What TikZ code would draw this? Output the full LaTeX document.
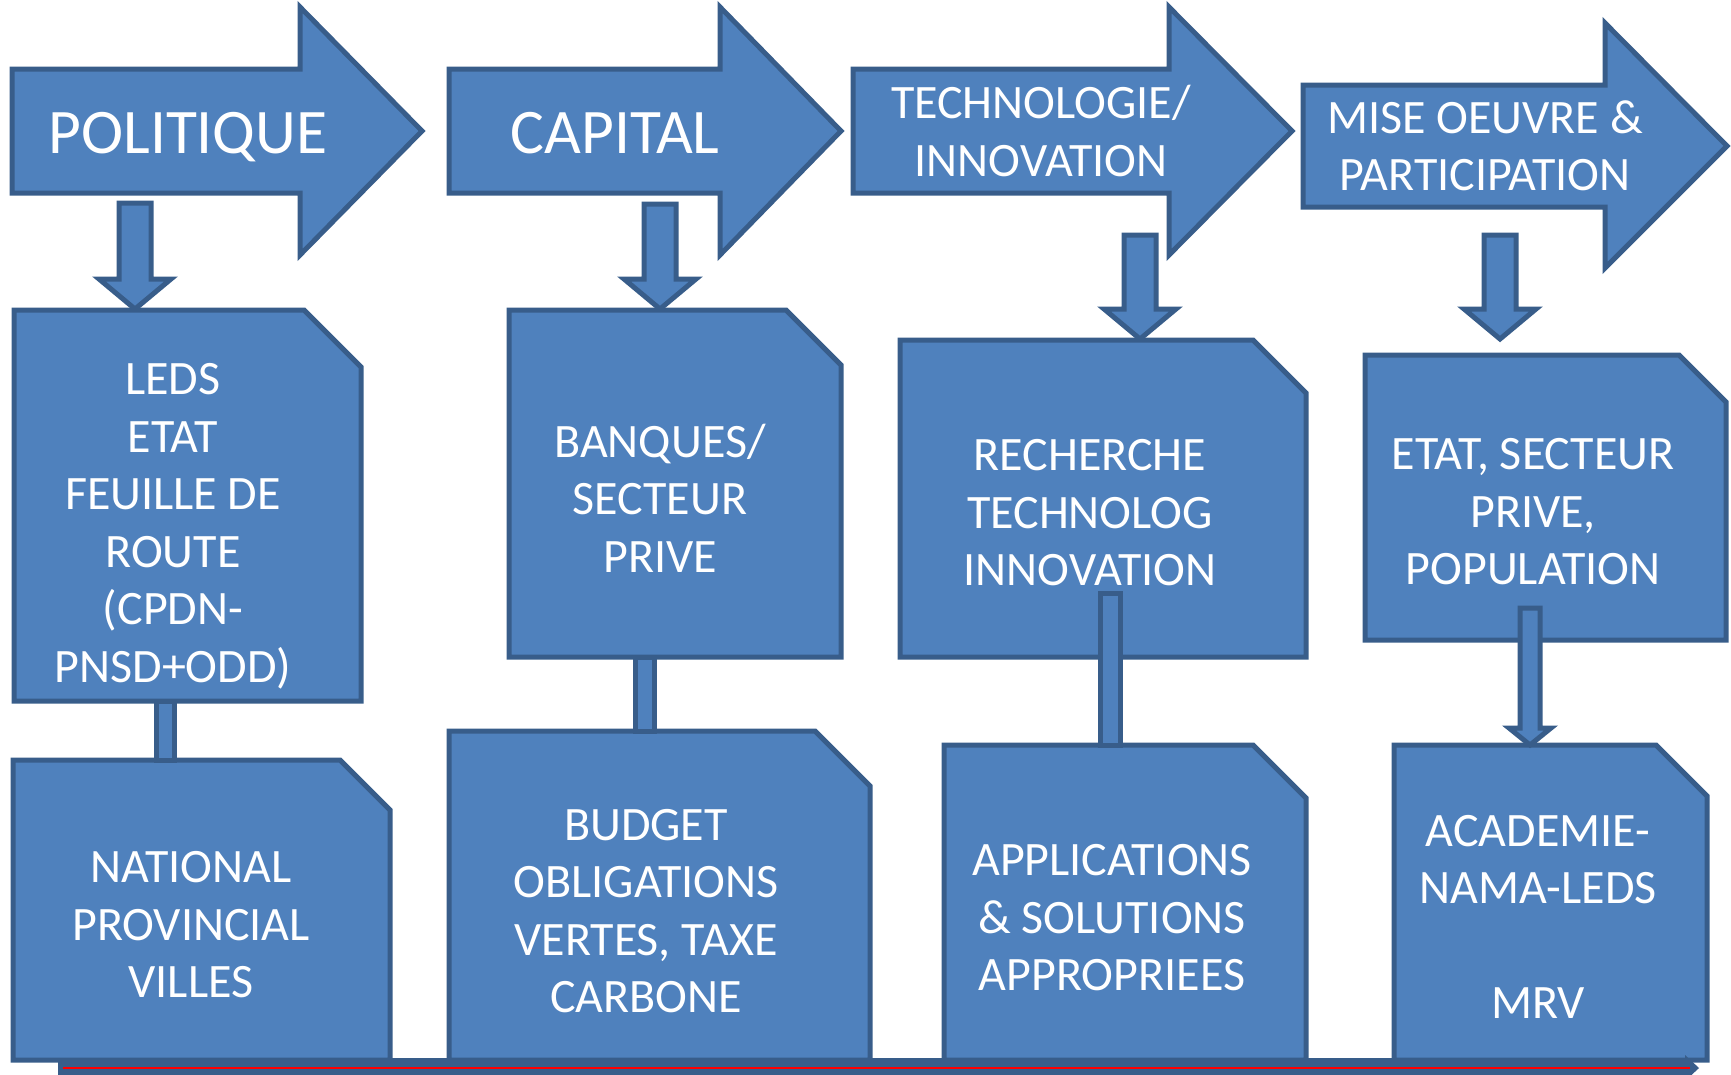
\documentclass[tikz,border=0pt]{standalone}
\usepackage{fontspec}
\setmainfont{Carlito}
\definecolor{panelblue}{HTML}{4F81BD}
\definecolor{paneledge}{HTML}{385D8A}

\begin{document}
\begin{tikzpicture}[
  x=1pt, y=-1pt,
  block/.style={fill=panelblue, draw=paneledge, line width=5pt, line join=miter},
  band/.style={fill=paneledge, draw=none},
  redline/.style={draw=red, line width=2.5pt},
  headtext/.style={text=white, font=\fontsize{63.5}{76}\selectfont, inner sep=0pt},
  paneltext/.style={text=white, align=center, font=\fontsize{48}{57.5}\selectfont, inner sep=0pt},
]
\useasboundingbox (0,0) rectangle (1731,1074);

%%% Stages (big arrows)
\draw[block] (12,69) -- (300,69) -- (300,7) -- (422,131) -- (300,255) -- (300,193) -- (12,193) -- cycle;
\draw[block] (449,69) -- (720,69) -- (720,7) -- (841,131) -- (720,255) -- (720,193) -- (449,193) -- cycle;
\draw[block] (853,69) -- (1169,69) -- (1169,7) -- (1292,131) -- (1169,255) -- (1169,193) -- (853,193) -- cycle;
\draw[block] (1303,85) -- (1605,85) -- (1605,23) -- (1727,146) -- (1605,268) -- (1605,207) -- (1303,207) -- cycle;

%%% Down arrows
\coordinate (polout) at (135,203);
\coordinate (capout) at (660,204);
\coordinate (tecout) at (1140,235);
\coordinate (misout) at (1500,235);
\foreach \c/\len in {polout/76, capout/75, tecout/74, misout/74} {
  \draw[block] (\c) ++(-16,0) -- ++(32,0) -- ++(0,\len) -- ++(20,0) -- ++(-36,30)
    -- ++(-36,-30) -- ++(20,0) -- cycle;
}

%%% Panels
\draw[block] (14,310) -- (304,310) -- (361,367) -- (361,701) -- (14,701) -- cycle;
\draw[block] (509,310) -- (786,310) -- (841,365) -- (841,657) -- (509,657) -- cycle;
\draw[block] (900,340) -- (1253,340) -- (1306,393) -- (1306,657) -- (900,657) -- cycle;
\draw[block] (1365,355) -- (1679,355) -- (1726,402) -- (1726,640) -- (1365,640) -- cycle;
\draw[block] (13,760) -- (340,760) -- (390,810) -- (390,1060) -- (13,1060) -- cycle;
\draw[block] (449,731) -- (815,731) -- (870,786) -- (870,1060) -- (449,1060) -- cycle;
\draw[block] (944,745) -- (1253,745) -- (1306,798) -- (1306,1060) -- (944,1060) -- cycle;
\draw[block] (1394,745) -- (1656,745) -- (1707,796) -- (1707,1060) -- (1394,1060) -- cycle;

%%% Links between panels
\draw[block] (156,701) rectangle (174,760);
\draw[block] (635,657) rectangle (654,731);
\draw[block] (1100,593) rectangle (1120,745);
\draw[block] (1520,608) -- (1540,608) -- (1540,728) -- (1551,728) -- (1530,745)
  -- (1509,728) -- (1520,728) -- cycle;

%%% Time line
\fill[band] (58,1058) -- (1685,1058) -- (1685,1055) -- (1699,1068) -- (1685,1081)
  -- (1685,1078) -- (58,1078) -- cycle;
\draw[redline] (63,1068) -- (1690,1068);

%%% Labels
\node[headtext, anchor=base] (politique) at (188,153) {POLITIQUE};
\node[headtext, anchor=base] (capital) at (615,153) {CAPITAL};
\node[paneltext] (techno) at (1041,131) {TECHNOLOGIE/\\INNOVATION};
\node[paneltext] (mise) at (1485,146) {MISE OEUVRE \&\\PARTICIPATION};

\node[paneltext] (leds) at (173,526) {LEDS\\ETAT\\FEUILLE DE\\ROUTE\\(CPDN-\\PNSD+ODD)};
\node[paneltext] (banques) at (660,498) {BANQUES/\\SECTEUR\\PRIVE};
\node[paneltext] (recherche) at (1090,513) {RECHERCHE\\TECHNOLOG\\INNOVATION};
\node[paneltext] (etat) at (1533,512) {ETAT, SECTEUR\\PRIVE,\\POPULATION};
\node[paneltext] (national) at (191,925) {NATIONAL\\PROVINCIAL\\VILLES};
\node[paneltext] (budget) at (646,911) {BUDGET\\OBLIGATIONS\\VERTES, TAXE\\CARBONE};
\node[paneltext] (applications) at (1112,918) {APPLICATIONS\\\& SOLUTIONS\\APPROPRIEES};
\node[paneltext] (academie) at (1538,917) {ACADEMIE-\\NAMA-LEDS\\[57.5pt]MRV};

\end{tikzpicture}
\end{document}
